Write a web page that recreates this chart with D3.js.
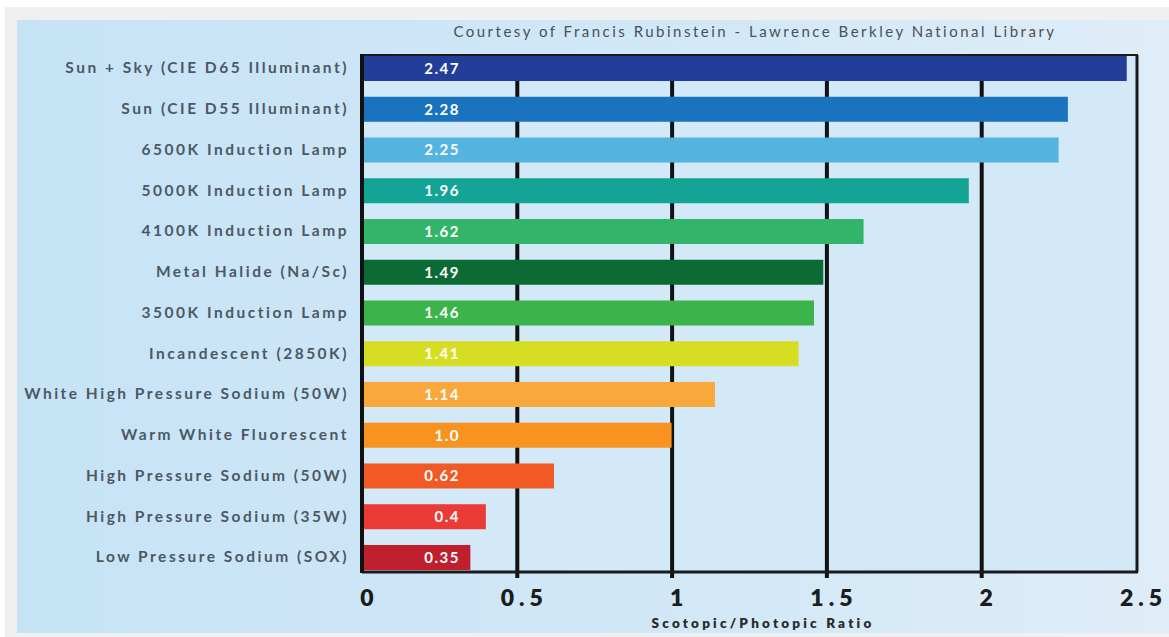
<!DOCTYPE html>
<html>
<head>
<meta charset="utf-8">
<script src="https://cdn.jsdelivr.net/npm/d3@7"></script>
<style>
  html, body { margin: 0; padding: 0; background: #ffffff; }
  svg { display: block; }
  text { font-family: Lato, "Open Sans", sans-serif; }
</style>
</head>
<body>
<svg id="chart" width="1169" height="637"></svg>
<script>
// Light sources and their scotopic/photopic ratios
const categories = [
  "Sun + Sky (CIE D65 Illuminant)",
  "Sun (CIE D55 Illuminant)",
  "6500K Induction Lamp",
  "5000K Induction Lamp",
  "4100K Induction Lamp",
  "Metal Halide (Na/Sc)",
  "3500K Induction Lamp",
  "Incandescent (2850K)",
  "White High Pressure Sodium (50W)",
  "Warm White Fluorescent",
  "High Pressure Sodium (50W)",
  "High Pressure Sodium (35W)",
  "Low Pressure Sodium (SOX)"
];
const ratios = [2.47, 2.28, 2.25, 1.96, 1.62, 1.49, 1.46, 1.41, 1.14, 1.0, 0.62, 0.4, 0.35];
const valueLabels = ["2.47", "2.28", "2.25", "1.96", "1.62", "1.49", "1.46", "1.41", "1.14", "1.0", "0.62", "0.4", "0.35"];
const barColors = [
  "#233e98", "#1a73bf", "#55b3df", "#14a495", "#32b56a", "#0c6b34", "#3cb44b",
  "#d6de23", "#f9a93b", "#f7931e", "#f15a24", "#ec3b36", "#c0202e"
];
const tickValues = [0, 0.5, 1, 1.5, 2, 2.5];
const tickLabels = ["0", "0.5", "1", "1.5", "2", "2.5"];
const titleText = "Courtesy of Francis Rubinstein - Lawrence Berkley National Library";
const axisTitle = "Scotopic/Photopic Ratio";

const svg = d3.select("#chart");

// Plot frame geometry
const plotLeft = 362, plotRight = 1137, plotTop = 55, plotBottom = 572;

// Background panels
const defs = svg.append("defs");
const grad = defs.append("linearGradient").attr("id", "panelGrad")
  .attr("x1", "0").attr("y1", "0").attr("x2", "1").attr("y2", "0");
grad.append("stop").attr("offset", "0%").attr("stop-color", "#c6e3f6");
grad.append("stop").attr("offset", "60%").attr("stop-color", "#d2e8f7");
grad.append("stop").attr("offset", "100%").attr("stop-color", "#dfedf8");

svg.append("rect").attr("x", 5).attr("y", 7).attr("width", 1164).attr("height", 630).attr("fill", "#f0f0f0");
svg.append("rect").attr("x", 17).attr("y", 20).attr("width", 1152).attr("height", 613).attr("fill", "url(#panelGrad)");
svg.append("rect").attr("x", plotLeft).attr("y", plotTop)
  .attr("width", plotRight - plotLeft).attr("height", plotBottom - plotTop)
  .attr("fill", "#d3e9f8");

// Scales
const x = d3.scaleLinear().domain([0, 2.5]).range([plotLeft, 1136]);
const y = d3.scaleBand().domain(categories).range([56, 570]).paddingInner(0.386).paddingOuter(0);

// Vertical grid lines (drawn behind the bars, poking slightly below the axis)
const gridBase = 578;
svg.append("g")
  .attr("transform", `translate(0,${gridBase})`)
  .call(d3.axisBottom(x).tickValues([0.5, 1, 1.5, 2]).tickSize(-(gridBase - plotTop)).tickFormat(""))
  .call(g => g.select(".domain").remove())
  .call(g => g.selectAll(".tick line").attr("stroke", "#111").attr("stroke-width", 4));

// Bars
svg.append("g").selectAll("rect")
  .data(ratios)
  .join("rect")
  .attr("x", x(0))
  .attr("y", (d, i) => y(categories[i]))
  .attr("width", d => x(d) - x(0))
  .attr("height", y.bandwidth())
  .attr("fill", (d, i) => barColors[i]);

// Value labels inside bars
svg.append("g").selectAll("text")
  .data(ratios)
  .join("text")
  .attr("x", 460)
  .attr("y", (d, i) => y(categories[i]) + y.bandwidth() / 2)
  .attr("dy", "0.36em")
  .attr("text-anchor", "end")
  .attr("fill", "#ffffff")
  .attr("font-size", 15)
  .attr("font-weight", 700)
  .attr("letter-spacing", 1.5)
  .text((d, i) => valueLabels[i]);

// Frame
svg.append("line").attr("x1", plotLeft).attr("x2", plotRight + 1).attr("y1", plotTop).attr("y2", plotTop)
  .attr("stroke", "#1a1a1a").attr("stroke-width", 2);
svg.append("line").attr("x1", plotRight).attr("x2", plotRight).attr("y1", plotTop).attr("y2", plotBottom)
  .attr("stroke", "#1a1a1a").attr("stroke-width", 3);
svg.append("line").attr("x1", plotLeft).attr("x2", plotRight + 1).attr("y1", plotBottom).attr("y2", plotBottom)
  .attr("stroke", "#1a1a1a").attr("stroke-width", 3);
svg.append("line").attr("x1", plotLeft).attr("x2", plotLeft).attr("y1", plotTop - 1).attr("y2", plotBottom + 1)
  .attr("stroke", "#111").attr("stroke-width", 4);

// Category axis (left)
svg.append("g")
  .attr("transform", `translate(${plotLeft - 15},0)`)
  .call(d3.axisLeft(y).tickSize(0).tickPadding(0))
  .call(g => g.select(".domain").remove())
  .call(g => g.selectAll("text")
    .attr("fill", "#4c5864")
    .attr("font-size", 15.5)
    .attr("font-weight", 700)
    .attr("letter-spacing", 2.5)
    .attr("dx", 2)
    .attr("font-family", "Lato, sans-serif"));

// Value axis labels (bottom)
svg.append("g")
  .attr("transform", `translate(0,${plotBottom})`)
  .call(d3.axisBottom(x).tickValues(tickValues).tickSize(0).tickPadding(18)
    .tickFormat((d, i) => tickLabels[i]))
  .call(g => g.select(".domain").remove())
  .call(g => g.selectAll("text")
    .attr("fill", "#1c1c1c")
    .attr("font-size", 23)
    .attr("font-weight", 800)
    .attr("letter-spacing", 5)
    .attr("dx", 7)
    .attr("font-family", "Lato, sans-serif"));

// Axis title
svg.append("text")
  .attr("x", 763).attr("y", 628)
  .attr("text-anchor", "middle")
  .attr("fill", "#2a2a2a")
  .attr("font-size", 13.5)
  .attr("font-weight", 800)
  .attr("letter-spacing", 3.2)
  .text(axisTitle);

// Source credit
svg.append("text")
  .attr("x", 755).attr("y", 37)
  .attr("text-anchor", "middle")
  .attr("fill", "#4a5058")
  .attr("font-size", 15)
  .attr("letter-spacing", 2.5)
  .text(titleText);
</script>
</body>
</html>
